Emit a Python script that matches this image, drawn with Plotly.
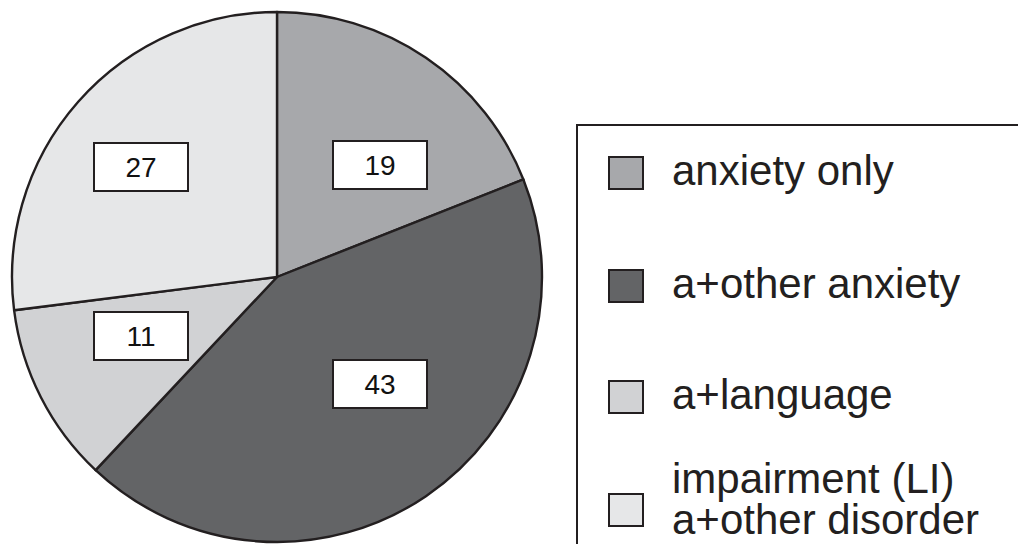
import plotly.graph_objects as go

W, H = 1018, 544

categories = ["anxiety only", "a+other anxiety", "a+language impairment (LI)", "a+other disorder"]
values = [19, 43, 11, 27]
colors = ["#a7a8ab", "#636466", "#d1d2d4", "#e6e7e8"]
legend_lines = [["anxiety only"], ["a+other anxiety"], ["a+language"], ["impairment (LI)", "a+other disorder"]]

# label box centres (px) for each slice
label_pos = [(380, 165), (380, 384), (141, 336), (141, 167)]

def px(x):
    return x / W

def py(y):
    return 1 - y / H

cx, cy, r = 277, 277, 265

fig = go.Figure()
fig.add_trace(go.Pie(
    labels=categories,
    values=values,
    sort=False,
    direction="clockwise",
    rotation=0,
    marker=dict(colors=colors, line=dict(color="#231f20", width=2.4)),
    textinfo="none",
    hoverinfo="label+value",
    showlegend=False,
    domain=dict(x=[px(cx - r), px(cx + r)], y=[py(cy + r), py(cy - r)]),
))

annotations = []
shapes = []

for v, (lx, ly) in zip(values, label_pos):
    annotations.append(dict(
        x=px(lx), y=py(ly), xref="paper", yref="paper",
        text=str(v), showarrow=False,
        font=dict(family="Liberation Sans, Arial, sans-serif", size=28, color="#111111"),
        bgcolor="white", bordercolor="#231f20", borderwidth=2,
        width=90, height=44, borderpad=1,
        xanchor="center", yanchor="middle",
    ))

# legend frame
shapes.append(dict(type="rect", xref="paper", yref="paper",
                   x0=px(577), x1=px(1040), y0=py(125), y1=py(570),
                   line=dict(color="#231f20", width=2), fillcolor="rgba(0,0,0,0)"))

sq_centers = [173, 286, 397, 510]
for col, lines, sc in zip(colors, legend_lines, sq_centers):
    shapes.append(dict(type="rect", xref="paper", yref="paper",
                       x0=px(609), x1=px(643), y0=py(sc - 16), y1=py(sc + 16),
                       line=dict(color="#231f20", width=2), fillcolor=col))
    n = len(lines)
    for i, t in enumerate(lines):
        yc = sc - 3 + (i - (n - 1) / 2) * 41 - (8 if n > 1 else 0)
        annotations.append(dict(
            x=px(670), y=py(yc), xref="paper", yref="paper",
            text=t, showarrow=False,
            font=dict(family="Liberation Sans, Arial, sans-serif", size=42, color="#231f20"),
            xanchor="left", yanchor="middle",
        ))

fig.update_layout(
    width=W, height=H,
    margin=dict(l=0, r=0, t=0, b=0),
    paper_bgcolor="white", plot_bgcolor="white",
    annotations=annotations, shapes=shapes,
    showlegend=False,
)

fig.write_html("out.html")
